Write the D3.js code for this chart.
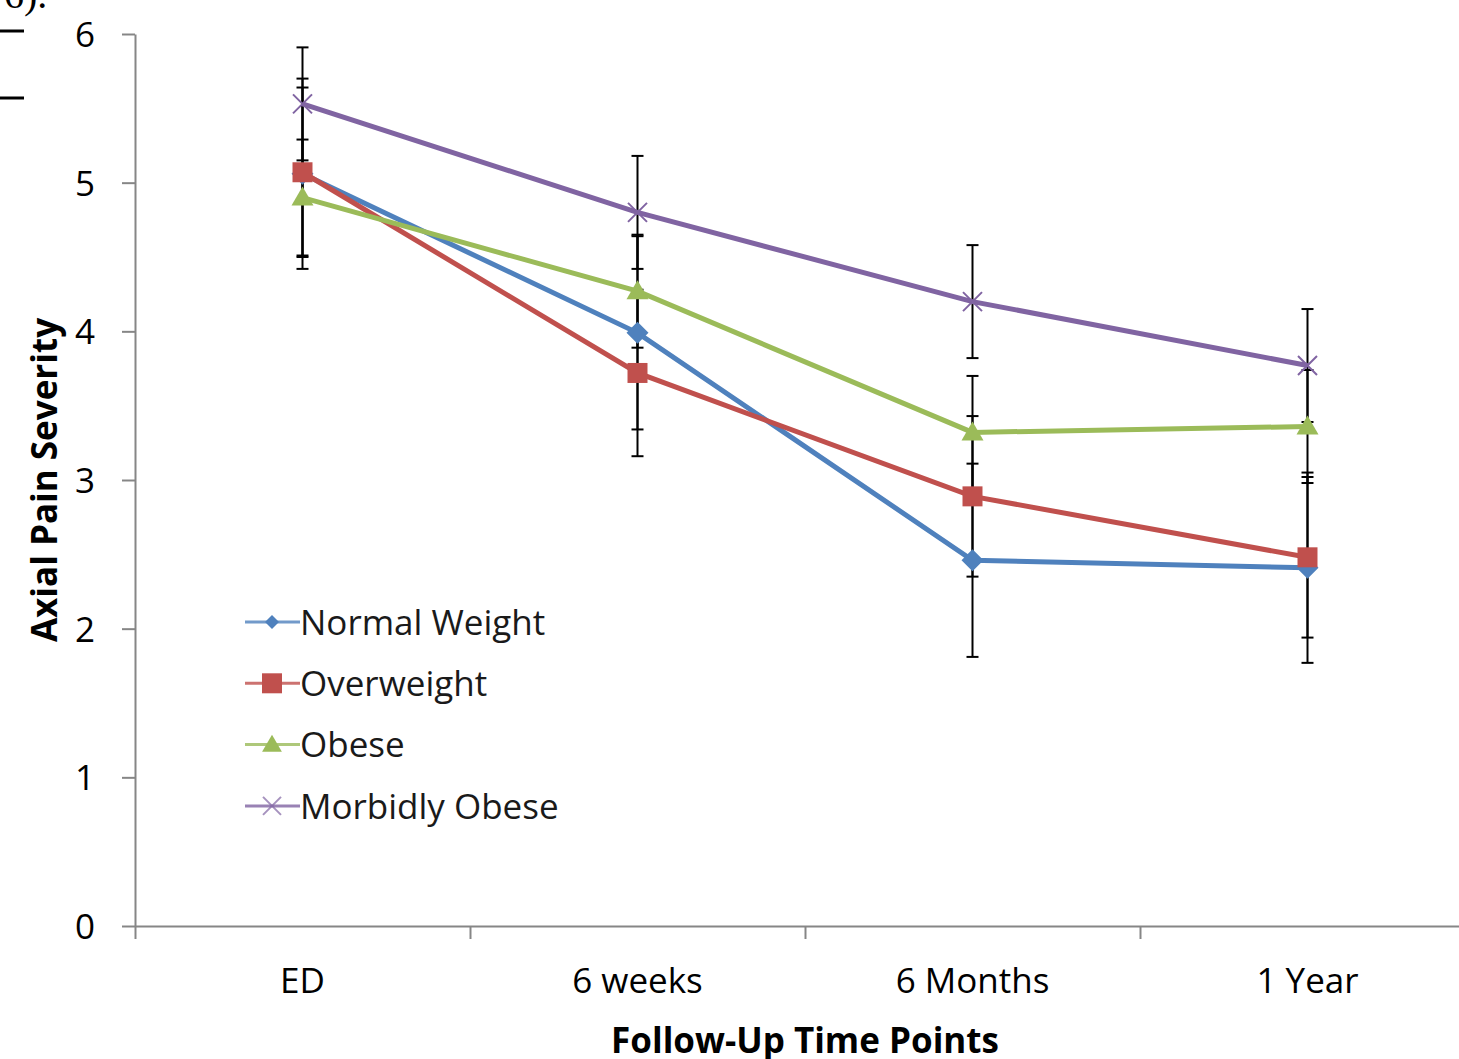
<!DOCTYPE html>
<html>
<head>
<meta charset="utf-8">
<script src="https://cdn.jsdelivr.net/npm/d3@7"></script>
<style>
  body { margin: 0; background: #fff; overflow: hidden; }
  svg { display: block; }
  svg text { font-family: "Open Sans", sans-serif; }
</style>
</head>
<body>
<svg width="1459" height="1059"></svg>
<script>
const timePoints = ['ED', '6 weeks', '6 Months', '1 Year'];
const seriesNames = ['Normal Weight', 'Overweight', 'Obese', 'Morbidly Obese'];
const normalWeight = [5.06, 3.99, 2.46, 2.41];
const overweight = [5.07, 3.72, 2.89, 2.48];
const obese = [4.90, 4.27, 3.32, 3.36];
const morbidlyObese = [5.53, 4.80, 4.20, 3.77];
const normalErr = [0.64, 0.65, 0.65, 0.64];
const overweightErr = [0.57, 0.56, 0.54, 0.54];
const obeseErr = [0.39, 0.38, 0.38, 0.38];
const morbidErr = [0.38, 0.38, 0.38, 0.38];
const yTicks = [0, 1, 2, 3, 4, 5, 6];

const svg = d3.select('svg');
const width = +svg.attr('width');
const height = +svg.attr('height');

var margin = {top: 34, left: 135, bottom: 133};
const plotRight = 1475;

const colors = ['#4F81BD', '#C0504D', '#9BBB59', '#8064A2'];
const shapes = ['diamond', 'square', 'triangle', 'cross'];

const series = [normalWeight, overweight, obese, morbidlyObese].map(function (vals, i) {
    var errs = [normalErr, overweightErr, obeseErr, morbidErr][i];
    return {
        name: seriesNames[i],
        color: colors[i],
        shape: shapes[i],
        values: vals.map((v, j) => ({t: timePoints[j], v: v, e: errs[j]}))
    };
});

var xScale = d3.scaleBand()
    .domain(timePoints)
    .range([margin.left, plotRight]);

var xEdge = d3.scaleLinear()
    .domain([0, timePoints.length])
    .range([margin.left, plotRight]);

var yScale = d3.scaleLinear()
    .domain([0, 6])
    .range([height - margin.bottom, margin.top]);

const cx = d => xScale(d.t) + xScale.bandwidth() / 2;

// scraps of the surrounding page at top-left
svg.append('text')
    .attr('x', 4).attr('y', 8)
    .style('font-family', '"Liberation Serif", serif')
    .style('font-size', '40px')
    .text('6).');
svg.append('line').attr('x1', 0).attr('x2', 24).attr('y1', 31).attr('y2', 31)
    .attr('stroke', '#000').attr('stroke-width', 3);
svg.append('line').attr('x1', 0).attr('x2', 24).attr('y1', 98).attr('y2', 98)
    .attr('stroke', '#000').attr('stroke-width', 3);

//-----------------------------------------Y - AXIS-----------------------------------------//

var yAxis = svg.append('g')
    .attr('transform', `translate(${margin.left},0)`)
    .call(d3.axisLeft(yScale).tickValues(yTicks).tickFormat(d3.format('d'))
        .tickSize(13).tickPadding(27).tickSizeOuter(0));
yAxis.attr('font-family', null);
yAxis.select('.domain').attr('stroke', '#868686').attr('stroke-width', 2);
yAxis.selectAll('.tick line').attr('stroke', '#868686').attr('stroke-width', 2);
yAxis.selectAll('.tick text')
    .style('font-size', '35px')
    .attr('fill', '#000')
    .attr('dy', '0.36em');

svg.append('text')
    .attr('text-anchor', 'middle')
    .attr('transform', `translate(57,${yScale(3)}) rotate(-90)`)
    .style('font-size', '35px')
    .style('font-weight', 'bold')
    .text('Axial Pain Severity');

//-----------------------------------------X - AXIS-----------------------------------------//

var xAxisEdge = svg.append('g')
    .attr('transform', `translate(0,${height - margin.bottom})`)
    .call(d3.axisBottom(xEdge).tickValues(d3.range(timePoints.length + 1)).tickFormat('').tickSize(13).tickSizeOuter(0));
xAxisEdge.select('.domain').attr('stroke', '#868686').attr('stroke-width', 2);
xAxisEdge.selectAll('.tick line').attr('stroke', '#868686').attr('stroke-width', 2);

var xAxis = svg.append('g')
    .attr('transform', `translate(0,${height - margin.bottom})`)
    .call(d3.axisBottom(xScale).tickSize(0));
xAxis.attr('font-family', null);
xAxis.select('.domain').remove();
xAxis.selectAll('.tick text')
    .attr('y', 67)
    .attr('dy', null)
    .style('font-size', '35px')
    .attr('fill', '#000');

svg.append('text')
    .attr('text-anchor', 'middle')
    .attr('x', (margin.left + plotRight) / 2)
    .attr('y', 1053)
    .style('font-size', '35px')
    .style('font-weight', 'bold')
    .text('Follow-Up Time Points');

//-----------------------------------------ERROR BARS-----------------------------------------//

series.forEach(function (s) {
    var g = svg.append('g').attr('stroke', '#000').attr('stroke-width', 2);
    s.values.forEach(function (d) {
        var x = cx(d), y0 = yScale(d.v - d.e), y1 = yScale(d.v + d.e);
        g.append('line').attr('x1', x).attr('x2', x).attr('y1', y0).attr('y2', y1);
        g.append('line').attr('x1', x - 6).attr('x2', x + 6).attr('y1', y0).attr('y2', y0);
        g.append('line').attr('x1', x - 6).attr('x2', x + 6).attr('y1', y1).attr('y2', y1);
    });
});

//-----------------------------------------LINES + MARKERS-----------------------------------------//

const markerPath = function (shape, r) {
    if (shape === 'diamond') return `M0,${-r}L${r},0L0,${r}L${-r},0Z`;
    if (shape === 'square') return `M${-r},${-r}H${r}V${r}H${-r}Z`;
    if (shape === 'triangle') return `M0,${-r * 1.1}L${r * 1.1},${r * 0.8}L${-r * 1.1},${r * 0.8}Z`;
    return `M${-r},${-r}L${r},${r}M${-r},${r}L${r},${-r}`;
};
const markerSize = {diamond: 11, square: 10, triangle: 10, cross: 9.5};

var line = d3.line().x(cx).y(d => yScale(d.v));

series.forEach(function (s) {
    svg.append('path')
        .datum(s.values)
        .attr('d', line)
        .attr('fill', 'none')
        .attr('stroke', s.color)
        .attr('stroke-width', 5);

    svg.selectAll(null)
        .data(s.values)
        .enter()
        .append('path')
        .attr('transform', d => `translate(${cx(d)},${yScale(d.v)})`)
        .attr('d', markerPath(s.shape, markerSize[s.shape]))
        .attr('fill', s.shape === 'cross' ? 'none' : s.color)
        .attr('stroke', s.color)
        .attr('stroke-width', s.shape === 'cross' ? 2 : 0);
});

//-----------------------------------------LEGEND-----------------------------------------//

var legend = svg.append('g');
series.forEach(function (s, i) {
    var ly = 622 + i * 61.3;
    legend.append('line')
        .attr('x1', 245).attr('x2', 300).attr('y1', ly).attr('y2', ly)
        .attr('stroke', s.color).attr('stroke-width', 3).attr('opacity', 0.8);
    var lr = {diamond: 7, square: 10, triangle: 9, cross: 9}[s.shape];
    legend.append('path')
        .attr('transform', `translate(272,${ly})`)
        .attr('d', markerPath(s.shape, lr))
        .attr('fill', s.shape === 'cross' ? 'none' : s.color)
        .attr('stroke', s.color)
        .attr('stroke-width', s.shape === 'cross' ? 2 : 0)
        .attr('opacity', s.shape === 'cross' ? 0.7 : 1);
    legend.append('text')
        .attr('x', 300).attr('y', ly)
        .attr('dy', '0.36em')
        .style('font-size', '35px')
        .attr('fill', '#1a1a1a')
        .text(s.name);
});
</script>
</body>
</html>
